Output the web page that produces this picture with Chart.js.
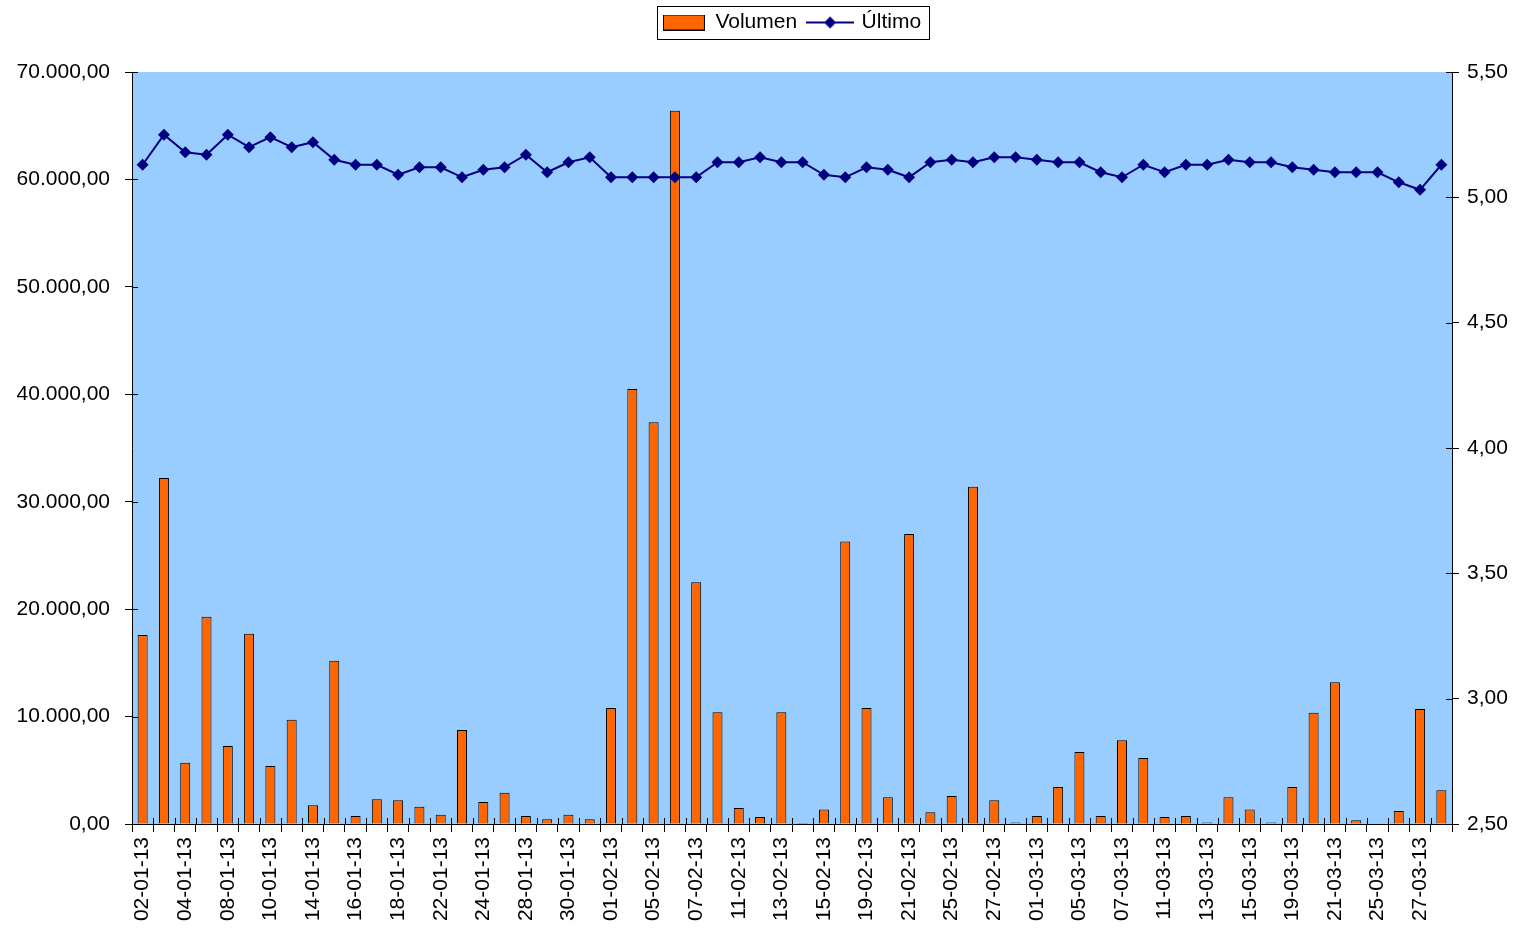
<!DOCTYPE html>
<html>
<head>
<meta charset="utf-8">
<script src="https://cdn.jsdelivr.net/npm/chart.js@4.4.0/dist/chart.umd.min.js"></script>
<style>
html, body { margin: 0; padding: 0; background: #fff; }
</style>
</head>
<body>
<canvas id="grafico" width="1517" height="929"></canvas>
<script>
// fechas de sesión (ene-mar 2013)
const fechas = [
  '02-01-13','03-01-13','04-01-13','07-01-13','08-01-13','09-01-13','10-01-13','11-01-13',
  '14-01-13','15-01-13','16-01-13','17-01-13','18-01-13','21-01-13','22-01-13','23-01-13',
  '24-01-13','25-01-13','28-01-13','29-01-13','30-01-13','31-01-13',
  '01-02-13','04-02-13','05-02-13','06-02-13','07-02-13','08-02-13','11-02-13','12-02-13',
  '13-02-13','14-02-13','15-02-13','18-02-13','19-02-13','20-02-13','21-02-13','22-02-13',
  '25-02-13','26-02-13','27-02-13','28-02-13',
  '01-03-13','04-03-13','05-03-13','06-03-13','07-03-13','08-03-13','11-03-13','12-03-13',
  '13-03-13','14-03-13','15-03-13','18-03-13','19-03-13','20-03-13','21-03-13','22-03-13',
  '25-03-13','26-03-13','27-03-13','28-03-13'
];

const volumen = [
  17600, 32200, 5700, 19300, 7250, 17700, 5400, 9700,
  1750, 15200, 750, 2300, 2200, 1600, 850, 8750,
  2050, 2900, 750, 450, 850, 450,
  10800, 40500, 37400, 66400, 22500, 10400, 1500, 650,
  10400, 100, 1350, 26300, 10800, 2500, 27000, 1100,
  2600, 31400, 2200, 150,
  750, 3450, 6700, 750, 7800, 6150, 650, 750,
  150, 2500, 1350, 150, 3450, 10350, 13200, 350,
  0, 1200, 10700, 3150
];

const ultimo = [
  5.13, 5.25, 5.18, 5.17, 5.25, 5.20, 5.24, 5.20,
  5.22, 5.15, 5.13, 5.13, 5.09, 5.12, 5.12, 5.08,
  5.11, 5.12, 5.17, 5.10, 5.14, 5.16,
  5.08, 5.08, 5.08, 5.08, 5.08, 5.14, 5.14, 5.16,
  5.14, 5.14, 5.09, 5.08, 5.12, 5.11, 5.08, 5.14,
  5.15, 5.14, 5.16, 5.16,
  5.15, 5.14, 5.14, 5.10, 5.08, 5.13, 5.10, 5.13,
  5.13, 5.15, 5.14, 5.14, 5.12, 5.11, 5.10, 5.10,
  5.10, 5.06, 5.03, 5.13
];

const naranja = '#FF6600';
const azul = '#000080';
const fuente = { family: '"Liberation Sans", Arial, sans-serif', size: 21 };

// formato español: 70.000,00
function fmt(v, dec) {
  const partes = Number(v).toFixed(dec).split('.');
  partes[0] = partes[0].replace(/\B(?=(\d{3})+(?!\d))/g, '.');
  return partes.join(',');
}

// muestras de la leyenda
function muestraBarra() {
  const c = document.createElement('canvas');
  c.width = 42; c.height = 16;
  const g = c.getContext('2d');
  g.fillStyle = naranja;
  g.fillRect(0, 0, 42, 16);
  g.strokeStyle = '#000';
  g.lineWidth = 1;
  g.strokeRect(0.5, 0.5, 41, 15);
  return c;
}
function muestraLinea() {
  const c = document.createElement('canvas');
  c.width = 48; c.height = 14;
  const g = c.getContext('2d');
  g.strokeStyle = azul;
  g.lineWidth = 2;
  g.beginPath(); g.moveTo(0, 7); g.lineTo(48, 7); g.stroke();
  g.fillStyle = azul;
  g.beginPath(); g.moveTo(24, 1); g.lineTo(30, 7); g.lineTo(24, 13); g.lineTo(18, 7); g.closePath(); g.fill();
  return c;
}
const iconos = [muestraBarra(), muestraLinea()];

const fondoPlot = {
  id: 'fondoPlot',
  beforeDraw(chart) {
    const { ctx, chartArea: a } = chart;
    ctx.save();
    ctx.fillStyle = '#99CCFF';
    ctx.fillRect(a.left, a.top, a.right - a.left, a.bottom - a.top);
    ctx.restore();
  }
};

// marcas que cruzan el eje (estilo Excel)
const marcasDentro = {
  id: 'marcasDentro',
  afterDatasetsDraw(chart) {
    const { ctx, chartArea: a, scales } = chart;
    ctx.save();
    ctx.strokeStyle = '#000';
    ctx.lineWidth = 1;
    ctx.beginPath();
    const n = fechas.length;
    for (let i = 0; i <= n; i++) {
      const x = Math.round(a.left + i * (a.right - a.left) / n) + 0.5;
      ctx.moveTo(x, a.bottom - 6); ctx.lineTo(x, a.bottom);
    }
    scales.y.ticks.forEach(t => {
      const y = Math.round(scales.y.getPixelForValue(t.value)) + 0.5;
      ctx.moveTo(a.left, y); ctx.lineTo(a.left + 6, y);
    });
    scales.y1.ticks.forEach(t => {
      const y = Math.round(scales.y1.getPixelForValue(t.value)) + 0.5;
      ctx.moveTo(a.right - 6, y); ctx.lineTo(a.right, y);
    });
    ctx.stroke();
    ctx.restore();
  }
};

const marcoLeyenda = {
  id: 'marcoLeyenda',
  afterDraw(chart) {
    const cajas = chart.legend && chart.legend.legendHitBoxes;
    if (!cajas || !cajas.length) return;
    let x0 = Infinity, x1 = -Infinity, y0 = Infinity, y1 = -Infinity;
    cajas.forEach(b => {
      x0 = Math.min(x0, b.left); x1 = Math.max(x1, b.left + b.width);
      y0 = Math.min(y0, b.top); y1 = Math.max(y1, b.top + b.height);
    });
    const ctx = chart.ctx;
    ctx.save();
    ctx.strokeStyle = '#000';
    ctx.lineWidth = 1;
    ctx.strokeRect(Math.round(x0 - 6) + 0.5, Math.round(y0 - 6) + 0.5, Math.round(x1 - x0 + 14), Math.round(y1 - y0 + 12));
    ctx.restore();
  }
};

new Chart(document.getElementById('grafico'), {
  type: 'bar',
  data: {
    labels: fechas,
    datasets: [
      {
        label: 'Volumen',
        data: volumen,
        yAxisID: 'y',
        backgroundColor: naranja,
        borderColor: '#000',
        borderWidth: 1,
        barPercentage: 0.47,
        categoryPercentage: 1,
        order: 2
      },
      {
        type: 'line',
        label: 'Último',
        data: ultimo,
        yAxisID: 'y1',
        borderColor: azul,
        borderWidth: 2,
        pointStyle: 'rectRot',
        pointRadius: 6,
        pointBackgroundColor: azul,
        pointBorderColor: azul,
        pointBorderWidth: 0,
        tension: 0,
        order: 1
      }
    ]
  },
  options: {
    responsive: false,
    animation: false,
    layout: { padding: 0 },
    plugins: {
      tooltip: { enabled: false },
      title: {
        display: true,
        text: ' ',
        weight: 500,
        font: { size: 20 },
        padding: { top: 3, bottom: 2 }
      },
      legend: {
        position: 'top',
        fullSize: false,
        labels: {
          usePointStyle: true,
          pointStyleWidth: 42,
          padding: 12,
          color: '#000',
          font: fuente,
          generateLabels: chart => chart.data.datasets.map((ds, i) => ({
            text: ds.label,
            pointStyle: iconos[i],
            fillStyle: 'transparent',
            strokeStyle: 'transparent',
            lineWidth: 0,
            fontColor: '#000',
            datasetIndex: i
          }))
        }
      }
    },
    scales: {
      x: {
        offset: true,
        grid: { offset: true, drawOnChartArea: false, color: '#000', tickLength: 8 },
        border: { color: '#000', width: 1 },
        ticks: {
          autoSkip: false,
          maxRotation: 90,
          minRotation: 90,
          padding: 5,
          color: '#000',
          font: fuente,
          callback: function (v, i) { return i % 2 === 0 ? this.getLabelForValue(v) : ''; }
        },
        afterFit: s => { s.height = 105; }
      },
      y: {
        position: 'left',
        min: 0,
        max: 70000,
        grid: { drawOnChartArea: false, color: '#000', tickLength: 7 },
        border: { color: '#000', width: 1 },
        ticks: {
          stepSize: 10000,
          padding: 15,
          color: '#000',
          font: fuente,
          callback: v => fmt(v, 2)
        },
        afterFit: s => { s.width = 132; }
      },
      y1: {
        position: 'right',
        min: 2.5,
        max: 5.5,
        grid: { drawOnChartArea: false, color: '#000', tickLength: 7 },
        border: { color: '#000', width: 1 },
        ticks: {
          stepSize: 0.5,
          padding: 8,
          color: '#000',
          font: fuente,
          callback: v => fmt(v, 2)
        },
        afterFit: s => { s.width = 65; }
      }
    }
  },
  plugins: [fondoPlot, marcasDentro, marcoLeyenda]
});
</script>
</body>
</html>
